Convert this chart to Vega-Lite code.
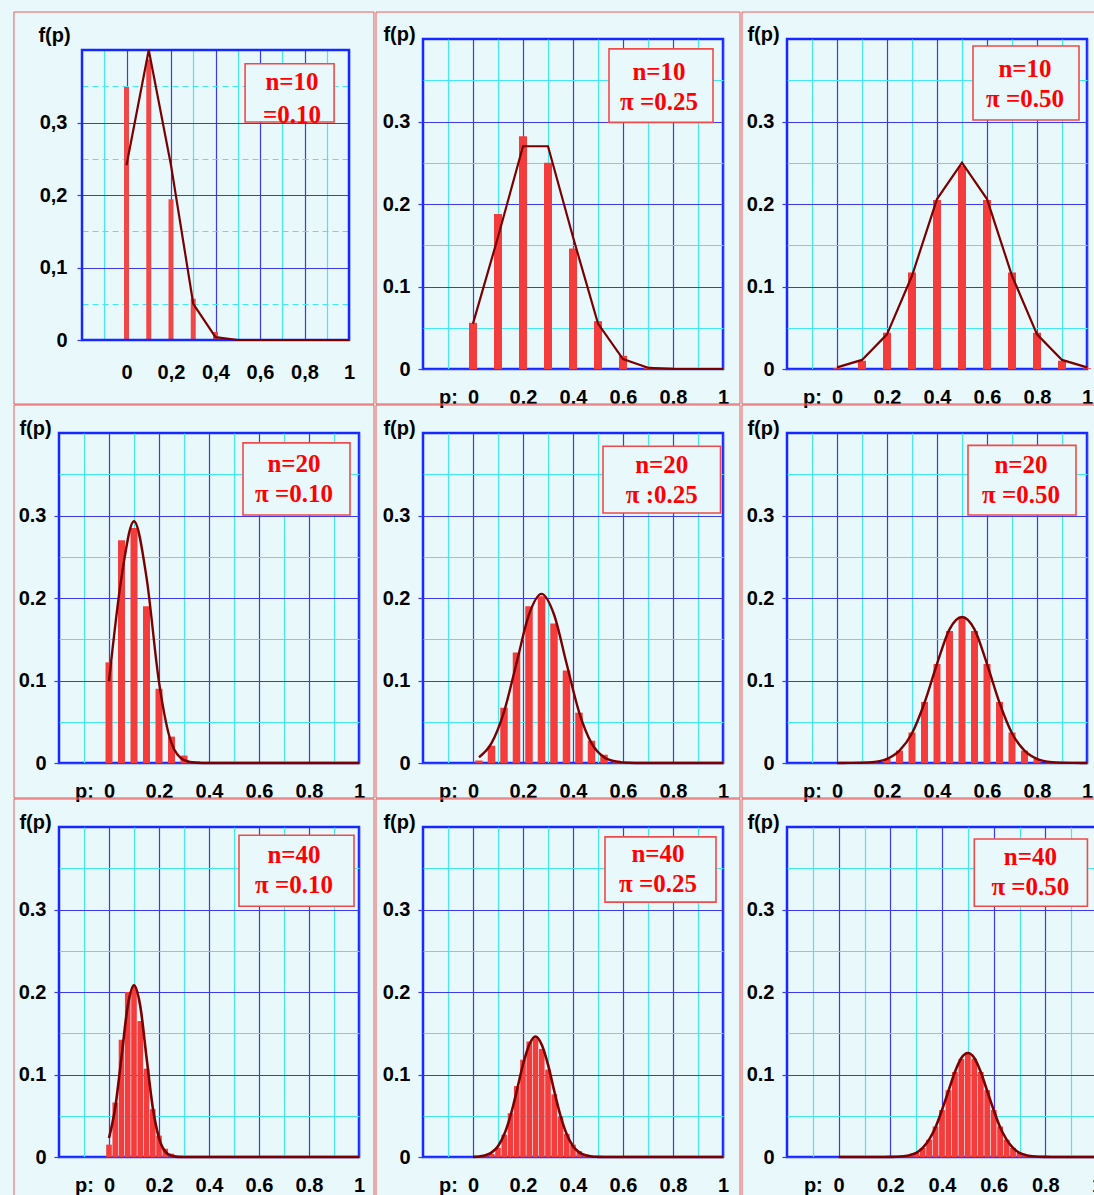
{
"$schema": "https://vega.github.io/schema/vega-lite/v6.json",
"background": "#e9f9fb",
"padding": {"left": 12, "top": 10, "right": 0, "bottom": 0},
"config": {
  "view": {"stroke": "#1428ff", "strokeWidth": 2.5},
  "axis": {"labelFont": "Liberation Sans", "labelFontWeight": "bold", "labelFontSize": 20, "labelColor": "#000000", "titleFont": "Liberation Sans", "titleFontWeight": "bold", "titleFontSize": 20, "titleColor": "#000000", "domain": false, "gridWidth": 1.2, "gridOpacity": 1, "labelOverlap": false, "labelFlush": false, "labelBound": false, "tickCount": 30}
},
"datasets": {
  "d1": [{"p":0,"bar":0.349,"line":0.241},{"p":0.1,"bar":0.387,"line":0.4},{"p":0.2,"bar":0.194,"line":0.241},{"p":0.3,"bar":0.057,"line":0.05},{"p":0.4,"bar":0.011,"line":0.004},{"p":0.5,"bar":0.0015,"line":0},{"p":0.6,"bar":0.0001,"line":0},{"p":0.7,"bar":0,"line":0},{"p":0.8,"bar":0,"line":0},{"p":0.9,"bar":0,"line":0},{"p":1,"bar":0,"line":0}],
  "d2": [{"p":0,"bar":0.056,"line":0.055},{"p":0.1,"bar":0.188,"line":0.16},{"p":0.2,"bar":0.282,"line":0.27},{"p":0.3,"bar":0.25,"line":0.27},{"p":0.4,"bar":0.146,"line":0.16},{"p":0.5,"bar":0.058,"line":0.055},{"p":0.6,"bar":0.016,"line":0.012},{"p":0.7,"bar":0.003,"line":0.0015},{"p":0.8,"bar":0.0004,"line":0.0001},{"p":0.9,"bar":0,"line":0},{"p":1,"bar":0,"line":0}],
  "d3": [{"p":0,"bar":0.001,"line":0.002},{"p":0.1,"bar":0.01,"line":0.011},{"p":0.2,"bar":0.044,"line":0.042},{"p":0.3,"bar":0.117,"line":0.113},{"p":0.4,"bar":0.205,"line":0.206},{"p":0.5,"bar":0.246,"line":0.25},{"p":0.6,"bar":0.205,"line":0.206},{"p":0.7,"bar":0.117,"line":0.113},{"p":0.8,"bar":0.044,"line":0.042},{"p":0.9,"bar":0.01,"line":0.011},{"p":1,"bar":0.001,"line":0.002}],
  "d4": [{"p":0,"bar":0.122,"line":0.099},{"p":0.05,"bar":0.27,"line":0.225},{"p":0.1,"bar":0.285,"line":0.293},{"p":0.15,"bar":0.19,"line":0.225},{"p":0.2,"bar":0.09,"line":0.098},{"p":0.25,"bar":0.032,"line":0.024},{"p":0.3,"bar":0.009,"line":0.0035},{"p":0.35,"bar":0.002,"line":0.0003},{"p":0.4,"bar":0.0004,"line":0},{"p":0.45,"bar":0.0001,"line":0},{"p":0.5,"bar":0,"line":0},{"p":0.55,"bar":0,"line":0},{"p":0.6,"bar":0,"line":0},{"p":0.65,"bar":0,"line":0},{"p":0.7,"bar":0,"line":0},{"p":0.75,"bar":0,"line":0},{"p":0.8,"bar":0,"line":0},{"p":0.85,"bar":0,"line":0},{"p":0.9,"bar":0,"line":0},{"p":0.95,"bar":0,"line":0},{"p":1,"bar":0,"line":0}],
  "d5": [{"p":0.024,"bar":0.003,"line":0.007},{"p":0.074,"bar":0.021,"line":0.024},{"p":0.124,"bar":0.067,"line":0.062},{"p":0.174,"bar":0.134,"line":0.121},{"p":0.224,"bar":0.19,"line":0.18},{"p":0.274,"bar":0.202,"line":0.205},{"p":0.324,"bar":0.169,"line":0.18},{"p":0.374,"bar":0.112,"line":0.121},{"p":0.424,"bar":0.061,"line":0.062},{"p":0.474,"bar":0.027,"line":0.024},{"p":0.524,"bar":0.01,"line":0.007},{"p":0.574,"bar":0.003,"line":0.0017},{"p":0.624,"bar":0.0008,"line":0.0003},{"p":0.674,"bar":0.0002,"line":0},{"p":0.724,"bar":0,"line":0},{"p":0.774,"bar":0,"line":0},{"p":0.824,"bar":0,"line":0},{"p":0.874,"bar":0,"line":0},{"p":0.924,"bar":0,"line":0},{"p":0.974,"bar":0,"line":0},{"p":1.0,"bar":0,"line":0}],
  "d6": [{"p":0,"bar":0,"line":0},{"p":0.05,"bar":0,"line":0.0001},{"p":0.1,"bar":0.0002,"line":0.0003},{"p":0.15,"bar":0.001,"line":0.0013},{"p":0.2,"bar":0.005,"line":0.005},{"p":0.25,"bar":0.015,"line":0.015},{"p":0.3,"bar":0.037,"line":0.036},{"p":0.35,"bar":0.074,"line":0.073},{"p":0.4,"bar":0.12,"line":0.12},{"p":0.45,"bar":0.16,"line":0.162},{"p":0.5,"bar":0.176,"line":0.177},{"p":0.55,"bar":0.16,"line":0.162},{"p":0.6,"bar":0.12,"line":0.12},{"p":0.65,"bar":0.074,"line":0.073},{"p":0.7,"bar":0.037,"line":0.036},{"p":0.75,"bar":0.015,"line":0.015},{"p":0.8,"bar":0.005,"line":0.005},{"p":0.85,"bar":0.001,"line":0.0013},{"p":0.9,"bar":0.0002,"line":0.0003},{"p":0.95,"bar":0,"line":0.0001},{"p":1,"bar":0,"line":0}],
  "d7": [{"p":0,"bar":0.015,"line":0.023},{"p":0.025,"bar":0.066,"line":0.06},{"p":0.05,"bar":0.142,"line":0.121},{"p":0.075,"bar":0.2,"line":0.183},{"p":0.1,"bar":0.206,"line":0.208},{"p":0.125,"bar":0.165,"line":0.183},{"p":0.15,"bar":0.107,"line":0.121},{"p":0.175,"bar":0.058,"line":0.06},{"p":0.2,"bar":0.026,"line":0.023},{"p":0.225,"bar":0.01,"line":0.0065},{"p":0.25,"bar":0.004,"line":0.0014},{"p":0.275,"bar":0.001,"line":0.0002},{"p":0.3,"bar":0.0003,"line":0},{"p":0.325,"bar":0.0001,"line":0},{"p":0.35,"bar":0,"line":0},{"p":0.375,"bar":0,"line":0},{"p":0.4,"bar":0,"line":0},{"p":0.425,"bar":0,"line":0},{"p":0.45,"bar":0,"line":0},{"p":0.475,"bar":0,"line":0},{"p":0.5,"bar":0,"line":0},{"p":0.525,"bar":0,"line":0},{"p":0.55,"bar":0,"line":0},{"p":0.575,"bar":0,"line":0},{"p":0.6,"bar":0,"line":0},{"p":0.625,"bar":0,"line":0},{"p":0.65,"bar":0,"line":0},{"p":0.675,"bar":0,"line":0},{"p":0.7,"bar":0,"line":0},{"p":0.725,"bar":0,"line":0},{"p":0.75,"bar":0,"line":0},{"p":0.775,"bar":0,"line":0},{"p":0.8,"bar":0,"line":0},{"p":0.825,"bar":0,"line":0},{"p":0.85,"bar":0,"line":0},{"p":0.875,"bar":0,"line":0},{"p":0.9,"bar":0,"line":0},{"p":0.925,"bar":0,"line":0},{"p":0.95,"bar":0,"line":0},{"p":0.975,"bar":0,"line":0},{"p":1,"bar":0,"line":0}],
  "d8": [{"p":0,"bar":0,"line":0.0002},{"p":0.025,"bar":0.0001,"line":0.0007},{"p":0.05,"bar":0.0009,"line":0.002},{"p":0.075,"bar":0.0037,"line":0.0056},{"p":0.1,"bar":0.011,"line":0.013},{"p":0.125,"bar":0.027,"line":0.0275},{"p":0.15,"bar":0.053,"line":0.05},{"p":0.175,"bar":0.086,"line":0.08},{"p":0.2,"bar":0.118,"line":0.112},{"p":0.225,"bar":0.14,"line":0.136},{"p":0.25,"bar":0.144,"line":0.146},{"p":0.275,"bar":0.131,"line":0.136},{"p":0.3,"bar":0.106,"line":0.112},{"p":0.325,"bar":0.076,"line":0.08},{"p":0.35,"bar":0.049,"line":0.05},{"p":0.375,"bar":0.028,"line":0.0275},{"p":0.4,"bar":0.015,"line":0.013},{"p":0.425,"bar":0.007,"line":0.0056},{"p":0.45,"bar":0.003,"line":0.002},{"p":0.475,"bar":0.001,"line":0.0007},{"p":0.5,"bar":0.0004,"line":0.0002},{"p":0.525,"bar":0.0001,"line":0},{"p":0.55,"bar":0,"line":0},{"p":0.575,"bar":0,"line":0},{"p":0.6,"bar":0,"line":0},{"p":0.625,"bar":0,"line":0},{"p":0.65,"bar":0,"line":0},{"p":0.675,"bar":0,"line":0},{"p":0.7,"bar":0,"line":0},{"p":0.725,"bar":0,"line":0},{"p":0.75,"bar":0,"line":0},{"p":0.775,"bar":0,"line":0},{"p":0.8,"bar":0,"line":0},{"p":0.825,"bar":0,"line":0},{"p":0.85,"bar":0,"line":0},{"p":0.875,"bar":0,"line":0},{"p":0.9,"bar":0,"line":0},{"p":0.925,"bar":0,"line":0},{"p":0.95,"bar":0,"line":0},{"p":0.975,"bar":0,"line":0},{"p":1,"bar":0,"line":0}],
  "d9": [{"p":0,"bar":0,"line":0},{"p":0.025,"bar":0,"line":0},{"p":0.05,"bar":0,"line":0},{"p":0.075,"bar":0,"line":0},{"p":0.1,"bar":0,"line":0},{"p":0.125,"bar":0,"line":0},{"p":0.15,"bar":0,"line":0},{"p":0.175,"bar":0,"line":0},{"p":0.2,"bar":0.0001,"line":0.0001},{"p":0.225,"bar":0.0003,"line":0.0003},{"p":0.25,"bar":0.0008,"line":0.0009},{"p":0.275,"bar":0.002,"line":0.0022},{"p":0.3,"bar":0.005,"line":0.005},{"p":0.325,"bar":0.011,"line":0.011},{"p":0.35,"bar":0.021,"line":0.021},{"p":0.375,"bar":0.037,"line":0.036},{"p":0.4,"bar":0.057,"line":0.057},{"p":0.425,"bar":0.081,"line":0.08},{"p":0.45,"bar":0.103,"line":0.103},{"p":0.475,"bar":0.119,"line":0.12},{"p":0.5,"bar":0.125,"line":0.126},{"p":0.525,"bar":0.119,"line":0.12},{"p":0.55,"bar":0.103,"line":0.103},{"p":0.575,"bar":0.081,"line":0.08},{"p":0.6,"bar":0.057,"line":0.057},{"p":0.625,"bar":0.037,"line":0.036},{"p":0.65,"bar":0.021,"line":0.021},{"p":0.675,"bar":0.011,"line":0.011},{"p":0.7,"bar":0.005,"line":0.005},{"p":0.725,"bar":0.002,"line":0.0022},{"p":0.75,"bar":0.0008,"line":0.0009},{"p":0.775,"bar":0.0003,"line":0.0003},{"p":0.8,"bar":0.0001,"line":0.0001},{"p":0.825,"bar":0,"line":0},{"p":0.85,"bar":0,"line":0},{"p":0.875,"bar":0,"line":0},{"p":0.9,"bar":0,"line":0},{"p":0.925,"bar":0,"line":0},{"p":0.95,"bar":0,"line":0},{"p":0.975,"bar":0,"line":0},{"p":1,"bar":0,"line":0}]
},
"columns": 3,
"spacing": 64,
"bounds": "flush",
"align": "each",
"concat": [
   {"width": 300, "height": 312, "view": {"stroke": null},
    "layer": [
     {"data": {"values": [{}]}, "mark": {"type": "rect", "fillOpacity": 0, "stroke": "#f05a5a", "strokeWidth": 1},
      "encoding": {"x": {"datum": -0.506, "type": "quantitative"}, "x2": {"datum": 1.112}, "y": {"datum": 0.4524, "type": "quantitative"}, "y2": {"datum": -0.0883}}},
     {"data": {"name": "d1"}, "mark": {"type": "bar", "orient": "vertical", "size": 5, "color": "#f04848"},
      "encoding": {
       "x": {"field": "p", "type": "quantitative", "scale": {"domain": [-0.2, 1], "range": [23, 290], "nice": false, "zero": false, "padding": 0},
             "axis": {"values": [-0.1,0,0.1,0.2,0.3,0.4,0.5,0.6,0.7,0.8,0.9,1], "tickCount": 30, "labelExpr": "datum.value < -0.05 ? '' : (round(datum.value*10) % 2 == 0 ? replace(format(datum.value, '~g'), '.', ',') : '')", "grid": true, "gridColor": {"condition": {"test": "round(datum.value*10) % 2 == 0", "value": "#3a3aea"}, "value": "#44e8f4"}, "ticks": false, "labelOverlap": false, "labelPadding": 22.5, "offset": -11, "title": null}},
       "y": {"field": "bar", "type": "quantitative", "stack": null, "scale": {"domain": [0, 0.4], "range": [301, 11], "nice": false, "zero": false},
             "axis": {"values": [0,0.05,0.1,0.15,0.2,0.25,0.3,0.35], "tickCount": 30, "labelExpr": "round(datum.value*20) % 2 == 0 ? replace(format(datum.value, '~g'), '.', ',') : ''", "grid": true, "gridColor": {"condition": {"test": "round(datum.value*20) % 2 == 0", "value": "#3a3aea"}, "value": "#44e8f4"}, "gridDash": {"condition": {"test": "round(datum.value*20) % 2 == 0", "value": []}, "value": [6, 4]}, "ticks": true, "tickSize": 5, "tickWidth": 1.2, "tickColor": {"condition": {"test": "round(datum.value*20) % 2 == 0", "value": "#3a3aea"}, "value": "transparent"}, "labelOverlap": false, "labelPadding": 10, "offset": -23, "title": "f(p)", "titleAngle": 0, "titleX": -28, "titleY": -4, "titleAlign": "center", "titleBaseline": "middle"}}}},
     {"data": {"values": [{}]}, "mark": {"type": "rect", "fillOpacity": 0, "stroke": "#1428ff", "strokeWidth": 2.5},
      "encoding": {"x": {"datum": -0.2, "type": "quantitative"}, "x2": {"datum": 1}, "y": {"datum": 0, "type": "quantitative"}, "y2": {"datum": 0.4}}},
     {"data": {"name": "d1"}, "mark": {"type": "line", "color": "#7a0000", "strokeWidth": 2.2},
      "encoding": {"x": {"field": "p", "type": "quantitative"}, "y": {"field": "line", "type": "quantitative"}}},
     {"data": {"values": [{}]}, "mark": {"type": "rect", "fill": "#e9f9fb", "stroke": "#f04a4a", "strokeWidth": 1.6},
      "encoding": {"x": {"datum": 0.533, "type": "quantitative"}, "x2": {"datum": 0.933}, "y": {"datum": 0.381, "type": "quantitative"}, "y2": {"datum": 0.3007}}},
     {"data": {"values": [{}]}, "mark": {"type": "text", "text": ["n=10", "=0.10"], "lineHeight": 33, "font": "Liberation Serif", "fontWeight": "bold", "fontSize": 25, "color": "#ff0000", "align": "center", "baseline": "middle"},
      "encoding": {"x": {"datum": 0.744, "type": "quantitative"}, "y": {"datum": 0.356, "type": "quantitative"}}}
    ]},
   {"width": 300, "height": 330,
    "layer": [
     {"data": {"values": [{}]}, "mark": {"type": "rect", "fillOpacity": 0, "stroke": "#f05a5a", "strokeWidth": 1},
      "encoding": {"x": {"datum": -0.388, "type": "quantitative"}, "x2": {"datum": 1.068}, "y": {"datum": 0.4327, "type": "quantitative"}, "y2": {"datum": -0.0424}}},
     {"data": {"name": "d2"}, "mark": {"type": "bar", "orient": "vertical", "size": 8, "color": "#f43c3c"},
      "encoding": {
       "x": {"field": "p", "type": "quantitative", "scale": {"domain": [-0.2, 1], "nice": false, "zero": false, "padding": 0},
             "axis": {"values": [-0.1,0,0.1,0.2,0.3,0.4,0.5,0.6,0.7,0.8,0.9,1], "tickCount": 30, "labelExpr": "datum.value < -0.05 ? 'p:' : (round(datum.value*10) % 2 == 0 ? format(datum.value, '~g') : '')", "grid": true, "gridColor": {"condition": {"test": "round(datum.value*10) % 2 == 0", "value": "#3a3aea"}, "value": "#44e8f4"}, "ticks": false, "labelOverlap": false, "labelPadding": 18.5, "title": null}},
       "y": {"field": "bar", "type": "quantitative", "stack": null, "scale": {"domain": [0, 0.4], "nice": false, "zero": false},
             "axis": {"values": [0,0.05,0.1,0.15,0.2,0.25,0.3,0.35], "tickCount": 30, "labelExpr": "round(datum.value*20) % 2 == 0 ? format(datum.value, '~g') : ''", "grid": true, "gridColor": {"condition": {"test": "round(datum.value*20) % 2 == 0", "value": "#3a3aea"}, "value": "#44e8f4"}, "ticks": true, "tickSize": 5, "tickWidth": 1.2, "tickColor": {"condition": {"test": "round(datum.value*20) % 2 == 0", "value": "#3a3aea"}, "value": "transparent"}, "labelOverlap": false, "labelPadding": 8, "title": "f(p)", "titleAngle": 0, "titleX": -24, "titleY": -5, "titleAlign": "center", "titleBaseline": "middle"}}}},
     {"data": {"name": "d2"}, "mark": {"type": "line", "color": "#7a0000", "strokeWidth": 2.2},
      "encoding": {"x": {"field": "p", "type": "quantitative"}, "y": {"field": "line", "type": "quantitative"}}},
     {"data": {"values": [{}]}, "mark": {"type": "rect", "fill": "#e9f9fb", "stroke": "#f04a4a", "strokeWidth": 1.6},
      "encoding": {"x": {"datum": 0.544, "type": "quantitative"}, "x2": {"datum": 0.96}, "y": {"datum": 0.388, "type": "quantitative"}, "y2": {"datum": 0.299}}},
     {"data": {"values": [{}]}, "mark": {"type": "text", "text": ["n=10", "π =0.25"], "lineHeight": 30, "font": "Liberation Serif", "fontWeight": "bold", "fontSize": 25, "color": "#ff0000", "align": "center", "baseline": "middle"},
      "encoding": {"x": {"datum": 0.744, "type": "quantitative"}, "y": {"datum": 0.36, "type": "quantitative"}}}
    ]},
   {"width": 300, "height": 330,
    "layer": [
     {"data": {"values": [{}]}, "mark": {"type": "rect", "fillOpacity": 0, "stroke": "#f05a5a", "strokeWidth": 1},
      "encoding": {"x": {"datum": -0.38, "type": "quantitative"}, "x2": {"datum": 1.032}, "y": {"datum": 0.4327, "type": "quantitative"}, "y2": {"datum": -0.0424}}},
     {"data": {"name": "d3"}, "mark": {"type": "bar", "orient": "vertical", "size": 8, "color": "#f43c3c"},
      "encoding": {
       "x": {"field": "p", "type": "quantitative", "scale": {"domain": [-0.2, 1], "nice": false, "zero": false, "padding": 0},
             "axis": {"values": [-0.1,0,0.1,0.2,0.3,0.4,0.5,0.6,0.7,0.8,0.9,1], "tickCount": 30, "labelExpr": "datum.value < -0.05 ? 'p:' : (round(datum.value*10) % 2 == 0 ? format(datum.value, '~g') : '')", "grid": true, "gridColor": {"condition": {"test": "round(datum.value*10) % 2 == 0", "value": "#3a3aea"}, "value": "#44e8f4"}, "ticks": false, "labelOverlap": false, "labelPadding": 18.5, "title": null}},
       "y": {"field": "bar", "type": "quantitative", "stack": null, "scale": {"domain": [0, 0.4], "nice": false, "zero": false},
             "axis": {"values": [0,0.05,0.1,0.15,0.2,0.25,0.3,0.35], "tickCount": 30, "labelExpr": "round(datum.value*20) % 2 == 0 ? format(datum.value, '~g') : ''", "grid": true, "gridColor": {"condition": {"test": "round(datum.value*20) % 2 == 0", "value": "#3a3aea"}, "value": "#44e8f4"}, "ticks": true, "tickSize": 5, "tickWidth": 1.2, "tickColor": {"condition": {"test": "round(datum.value*20) % 2 == 0", "value": "#3a3aea"}, "value": "transparent"}, "labelOverlap": false, "labelPadding": 8, "title": "f(p)", "titleAngle": 0, "titleX": -24, "titleY": -5, "titleAlign": "center", "titleBaseline": "middle"}}}},
     {"data": {"name": "d3"}, "mark": {"type": "line", "color": "#7a0000", "strokeWidth": 2.2},
      "encoding": {"x": {"field": "p", "type": "quantitative"}, "y": {"field": "line", "type": "quantitative"}}},
     {"data": {"values": [{}]}, "mark": {"type": "rect", "fill": "#e9f9fb", "stroke": "#f04a4a", "strokeWidth": 1.6},
      "encoding": {"x": {"datum": 0.544, "type": "quantitative"}, "x2": {"datum": 0.968}, "y": {"datum": 0.3915, "type": "quantitative"}, "y2": {"datum": 0.3018}}},
     {"data": {"values": [{}]}, "mark": {"type": "text", "text": ["n=10", "π =0.50"], "lineHeight": 30, "font": "Liberation Serif", "fontWeight": "bold", "fontSize": 25, "color": "#ff0000", "align": "center", "baseline": "middle"},
      "encoding": {"x": {"datum": 0.752, "type": "quantitative"}, "y": {"datum": 0.3636, "type": "quantitative"}}}
    ]},
   {"width": 300, "height": 330,
    "layer": [
     {"data": {"values": [{}]}, "mark": {"type": "rect", "fillOpacity": 0, "stroke": "#f05a5a", "strokeWidth": 1},
      "encoding": {"x": {"datum": -0.38, "type": "quantitative"}, "x2": {"datum": 1.06}, "y": {"datum": 0.4339, "type": "quantitative"}, "y2": {"datum": -0.0424}}},
     {"data": {"name": "d4"}, "mark": {"type": "bar", "orient": "vertical", "size": 7, "color": "#f43c3c"},
      "encoding": {
       "x": {"field": "p", "type": "quantitative", "scale": {"domain": [-0.2, 1], "nice": false, "zero": false, "padding": 0},
             "axis": {"values": [-0.1,0,0.1,0.2,0.3,0.4,0.5,0.6,0.7,0.8,0.9,1], "tickCount": 30, "labelExpr": "datum.value < -0.05 ? 'p:' : (round(datum.value*10) % 2 == 0 ? format(datum.value, '~g') : '')", "grid": true, "gridColor": {"condition": {"test": "round(datum.value*10) % 2 == 0", "value": "#3a3aea"}, "value": "#44e8f4"}, "ticks": false, "labelOverlap": false, "labelPadding": 18.5, "title": null}},
       "y": {"field": "bar", "type": "quantitative", "stack": null, "scale": {"domain": [0, 0.4], "nice": false, "zero": false},
             "axis": {"values": [0,0.05,0.1,0.15,0.2,0.25,0.3,0.35], "tickCount": 30, "labelExpr": "round(datum.value*20) % 2 == 0 ? format(datum.value, '~g') : ''", "grid": true, "gridColor": {"condition": {"test": "round(datum.value*20) % 2 == 0", "value": "#3a3aea"}, "value": "#44e8f4"}, "ticks": true, "tickSize": 5, "tickWidth": 1.2, "tickColor": {"condition": {"test": "round(datum.value*20) % 2 == 0", "value": "#3a3aea"}, "value": "transparent"}, "labelOverlap": false, "labelPadding": 8, "title": "f(p)", "titleAngle": 0, "titleX": -24, "titleY": -5, "titleAlign": "center", "titleBaseline": "middle"}}}},
     {"data": {"name": "d4"}, "mark": {"type": "line", "color": "#7a0000", "strokeWidth": 2.4, "interpolate": "monotone"},
      "encoding": {"x": {"field": "p", "type": "quantitative"}, "y": {"field": "line", "type": "quantitative"}}},
     {"data": {"values": [{}]}, "mark": {"type": "rect", "fill": "#e9f9fb", "stroke": "#f04a4a", "strokeWidth": 1.6},
      "encoding": {"x": {"datum": 0.536, "type": "quantitative"}, "x2": {"datum": 0.964}, "y": {"datum": 0.388, "type": "quantitative"}, "y2": {"datum": 0.3006}}},
     {"data": {"values": [{}]}, "mark": {"type": "text", "text": ["n=20", "π =0.10"], "lineHeight": 30, "font": "Liberation Serif", "fontWeight": "bold", "fontSize": 25, "color": "#ff0000", "align": "center", "baseline": "middle"},
      "encoding": {"x": {"datum": 0.74, "type": "quantitative"}, "y": {"datum": 0.362, "type": "quantitative"}}}
    ]},
   {"width": 300, "height": 330,
    "layer": [
     {"data": {"values": [{}]}, "mark": {"type": "rect", "fillOpacity": 0, "stroke": "#f05a5a", "strokeWidth": 1},
      "encoding": {"x": {"datum": -0.388, "type": "quantitative"}, "x2": {"datum": 1.068}, "y": {"datum": 0.4339, "type": "quantitative"}, "y2": {"datum": -0.0424}}},
     {"data": {"name": "d5"}, "mark": {"type": "bar", "orient": "vertical", "size": 7.5, "color": "#f43c3c"},
      "encoding": {
       "x": {"field": "p", "type": "quantitative", "scale": {"domain": [-0.2, 1], "nice": false, "zero": false, "padding": 0},
             "axis": {"values": [-0.1,0,0.1,0.2,0.3,0.4,0.5,0.6,0.7,0.8,0.9,1], "tickCount": 30, "labelExpr": "datum.value < -0.05 ? 'p:' : (round(datum.value*10) % 2 == 0 ? format(datum.value, '~g') : '')", "grid": true, "gridColor": {"condition": {"test": "round(datum.value*10) % 2 == 0", "value": "#3a3aea"}, "value": "#44e8f4"}, "ticks": false, "labelOverlap": false, "labelPadding": 18.5, "title": null}},
       "y": {"field": "bar", "type": "quantitative", "stack": null, "scale": {"domain": [0, 0.4], "nice": false, "zero": false},
             "axis": {"values": [0,0.05,0.1,0.15,0.2,0.25,0.3,0.35], "tickCount": 30, "labelExpr": "round(datum.value*20) % 2 == 0 ? format(datum.value, '~g') : ''", "grid": true, "gridColor": {"condition": {"test": "round(datum.value*20) % 2 == 0", "value": "#3a3aea"}, "value": "#44e8f4"}, "ticks": true, "tickSize": 5, "tickWidth": 1.2, "tickColor": {"condition": {"test": "round(datum.value*20) % 2 == 0", "value": "#3a3aea"}, "value": "transparent"}, "labelOverlap": false, "labelPadding": 8, "title": "f(p)", "titleAngle": 0, "titleX": -24, "titleY": -5, "titleAlign": "center", "titleBaseline": "middle"}}}},
     {"data": {"name": "d5"}, "mark": {"type": "line", "color": "#7a0000", "strokeWidth": 2.4, "interpolate": "monotone"},
      "encoding": {"x": {"field": "p", "type": "quantitative"}, "y": {"field": "line", "type": "quantitative"}}},
     {"data": {"values": [{}]}, "mark": {"type": "rect", "fill": "#e9f9fb", "stroke": "#f04a4a", "strokeWidth": 1.6},
      "encoding": {"x": {"datum": 0.52, "type": "quantitative"}, "x2": {"datum": 0.99}, "y": {"datum": 0.384, "type": "quantitative"}, "y2": {"datum": 0.303}}},
     {"data": {"values": [{}]}, "mark": {"type": "text", "text": ["n=20", "π :0.25"], "lineHeight": 30, "font": "Liberation Serif", "fontWeight": "bold", "fontSize": 25, "color": "#ff0000", "align": "center", "baseline": "middle"},
      "encoding": {"x": {"datum": 0.755, "type": "quantitative"}, "y": {"datum": 0.361, "type": "quantitative"}}}
    ]},
   {"width": 300, "height": 330,
    "layer": [
     {"data": {"values": [{}]}, "mark": {"type": "rect", "fillOpacity": 0, "stroke": "#f05a5a", "strokeWidth": 1},
      "encoding": {"x": {"datum": -0.38, "type": "quantitative"}, "x2": {"datum": 1.032}, "y": {"datum": 0.4339, "type": "quantitative"}, "y2": {"datum": -0.0424}}},
     {"data": {"name": "d6"}, "mark": {"type": "bar", "orient": "vertical", "size": 7, "color": "#f43c3c"},
      "encoding": {
       "x": {"field": "p", "type": "quantitative", "scale": {"domain": [-0.2, 1], "nice": false, "zero": false, "padding": 0},
             "axis": {"values": [-0.1,0,0.1,0.2,0.3,0.4,0.5,0.6,0.7,0.8,0.9,1], "tickCount": 30, "labelExpr": "datum.value < -0.05 ? 'p:' : (round(datum.value*10) % 2 == 0 ? format(datum.value, '~g') : '')", "grid": true, "gridColor": {"condition": {"test": "round(datum.value*10) % 2 == 0", "value": "#3a3aea"}, "value": "#44e8f4"}, "ticks": false, "labelOverlap": false, "labelPadding": 18.5, "title": null}},
       "y": {"field": "bar", "type": "quantitative", "stack": null, "scale": {"domain": [0, 0.4], "nice": false, "zero": false},
             "axis": {"values": [0,0.05,0.1,0.15,0.2,0.25,0.3,0.35], "tickCount": 30, "labelExpr": "round(datum.value*20) % 2 == 0 ? format(datum.value, '~g') : ''", "grid": true, "gridColor": {"condition": {"test": "round(datum.value*20) % 2 == 0", "value": "#3a3aea"}, "value": "#44e8f4"}, "ticks": true, "tickSize": 5, "tickWidth": 1.2, "tickColor": {"condition": {"test": "round(datum.value*20) % 2 == 0", "value": "#3a3aea"}, "value": "transparent"}, "labelOverlap": false, "labelPadding": 8, "title": "f(p)", "titleAngle": 0, "titleX": -24, "titleY": -5, "titleAlign": "center", "titleBaseline": "middle"}}}},
     {"data": {"name": "d6"}, "mark": {"type": "line", "color": "#7a0000", "strokeWidth": 2.4, "interpolate": "monotone"},
      "encoding": {"x": {"field": "p", "type": "quantitative"}, "y": {"field": "line", "type": "quantitative"}}},
     {"data": {"values": [{}]}, "mark": {"type": "rect", "fill": "#e9f9fb", "stroke": "#f04a4a", "strokeWidth": 1.6},
      "encoding": {"x": {"datum": 0.524, "type": "quantitative"}, "x2": {"datum": 0.956}, "y": {"datum": 0.385, "type": "quantitative"}, "y2": {"datum": 0.3006}}},
     {"data": {"values": [{}]}, "mark": {"type": "text", "text": ["n=20", "π =0.50"], "lineHeight": 30, "font": "Liberation Serif", "fontWeight": "bold", "fontSize": 25, "color": "#ff0000", "align": "center", "baseline": "middle"},
      "encoding": {"x": {"datum": 0.736, "type": "quantitative"}, "y": {"datum": 0.361, "type": "quantitative"}}}
    ]},
   {"width": 300, "height": 330,
    "layer": [
     {"data": {"values": [{}]}, "mark": {"type": "rect", "fillOpacity": 0, "stroke": "#f05a5a", "strokeWidth": 1},
      "encoding": {"x": {"datum": -0.38, "type": "quantitative"}, "x2": {"datum": 1.06}, "y": {"datum": 0.4339, "type": "quantitative"}, "y2": {"datum": -0.0473}}},
     {"data": {"name": "d7"}, "mark": {"type": "bar", "orient": "vertical", "size": 5.6, "color": "#f43c3c"},
      "encoding": {
       "x": {"field": "p", "type": "quantitative", "scale": {"domain": [-0.2, 1], "nice": false, "zero": false, "padding": 0},
             "axis": {"values": [-0.1,0,0.1,0.2,0.3,0.4,0.5,0.6,0.7,0.8,0.9,1], "tickCount": 30, "labelExpr": "datum.value < -0.05 ? 'p:' : (round(datum.value*10) % 2 == 0 ? format(datum.value, '~g') : '')", "grid": true, "gridColor": {"condition": {"test": "round(datum.value*10) % 2 == 0", "value": "#3a3aea"}, "value": "#44e8f4"}, "ticks": false, "labelOverlap": false, "labelPadding": 18.5, "title": null}},
       "y": {"field": "bar", "type": "quantitative", "stack": null, "scale": {"domain": [0, 0.4], "nice": false, "zero": false},
             "axis": {"values": [0,0.05,0.1,0.15,0.2,0.25,0.3,0.35], "tickCount": 30, "labelExpr": "round(datum.value*20) % 2 == 0 ? format(datum.value, '~g') : ''", "grid": true, "gridColor": {"condition": {"test": "round(datum.value*20) % 2 == 0", "value": "#3a3aea"}, "value": "#44e8f4"}, "ticks": true, "tickSize": 5, "tickWidth": 1.2, "tickColor": {"condition": {"test": "round(datum.value*20) % 2 == 0", "value": "#3a3aea"}, "value": "transparent"}, "labelOverlap": false, "labelPadding": 8, "title": "f(p)", "titleAngle": 0, "titleX": -24, "titleY": -5, "titleAlign": "center", "titleBaseline": "middle"}}}},
     {"data": {"name": "d7"}, "mark": {"type": "line", "color": "#7a0000", "strokeWidth": 2.6, "interpolate": "monotone"},
      "encoding": {"x": {"field": "p", "type": "quantitative"}, "y": {"field": "line", "type": "quantitative"}}},
     {"data": {"values": [{}]}, "mark": {"type": "rect", "fill": "#e9f9fb", "stroke": "#f04a4a", "strokeWidth": 1.6},
      "encoding": {"x": {"datum": 0.52, "type": "quantitative"}, "x2": {"datum": 0.98}, "y": {"datum": 0.39, "type": "quantitative"}, "y2": {"datum": 0.304}}},
     {"data": {"values": [{}]}, "mark": {"type": "text", "text": ["n=40", "π =0.10"], "lineHeight": 30, "font": "Liberation Serif", "fontWeight": "bold", "fontSize": 25, "color": "#ff0000", "align": "center", "baseline": "middle"},
      "encoding": {"x": {"datum": 0.74, "type": "quantitative"}, "y": {"datum": 0.366, "type": "quantitative"}}}
    ]},
   {"width": 300, "height": 330,
    "layer": [
     {"data": {"values": [{}]}, "mark": {"type": "rect", "fillOpacity": 0, "stroke": "#f05a5a", "strokeWidth": 1},
      "encoding": {"x": {"datum": -0.388, "type": "quantitative"}, "x2": {"datum": 1.068}, "y": {"datum": 0.4339, "type": "quantitative"}, "y2": {"datum": -0.0473}}},
     {"data": {"name": "d8"}, "mark": {"type": "bar", "orient": "vertical", "size": 5.6, "color": "#f43c3c"},
      "encoding": {
       "x": {"field": "p", "type": "quantitative", "scale": {"domain": [-0.2, 1], "nice": false, "zero": false, "padding": 0},
             "axis": {"values": [-0.1,0,0.1,0.2,0.3,0.4,0.5,0.6,0.7,0.8,0.9,1], "tickCount": 30, "labelExpr": "datum.value < -0.05 ? 'p:' : (round(datum.value*10) % 2 == 0 ? format(datum.value, '~g') : '')", "grid": true, "gridColor": {"condition": {"test": "round(datum.value*10) % 2 == 0", "value": "#3a3aea"}, "value": "#44e8f4"}, "ticks": false, "labelOverlap": false, "labelPadding": 18.5, "title": null}},
       "y": {"field": "bar", "type": "quantitative", "stack": null, "scale": {"domain": [0, 0.4], "nice": false, "zero": false},
             "axis": {"values": [0,0.05,0.1,0.15,0.2,0.25,0.3,0.35], "tickCount": 30, "labelExpr": "round(datum.value*20) % 2 == 0 ? format(datum.value, '~g') : ''", "grid": true, "gridColor": {"condition": {"test": "round(datum.value*20) % 2 == 0", "value": "#3a3aea"}, "value": "#44e8f4"}, "ticks": true, "tickSize": 5, "tickWidth": 1.2, "tickColor": {"condition": {"test": "round(datum.value*20) % 2 == 0", "value": "#3a3aea"}, "value": "transparent"}, "labelOverlap": false, "labelPadding": 8, "title": "f(p)", "titleAngle": 0, "titleX": -24, "titleY": -5, "titleAlign": "center", "titleBaseline": "middle"}}}},
     {"data": {"name": "d8"}, "mark": {"type": "line", "color": "#7a0000", "strokeWidth": 2.6, "interpolate": "monotone"},
      "encoding": {"x": {"field": "p", "type": "quantitative"}, "y": {"field": "line", "type": "quantitative"}}},
     {"data": {"values": [{}]}, "mark": {"type": "rect", "fill": "#e9f9fb", "stroke": "#f04a4a", "strokeWidth": 1.6},
      "encoding": {"x": {"datum": 0.528, "type": "quantitative"}, "x2": {"datum": 0.972}, "y": {"datum": 0.388, "type": "quantitative"}, "y2": {"datum": 0.309}}},
     {"data": {"values": [{}]}, "mark": {"type": "text", "text": ["n=40", "π =0.25"], "lineHeight": 30, "font": "Liberation Serif", "fontWeight": "bold", "fontSize": 25, "color": "#ff0000", "align": "center", "baseline": "middle"},
      "encoding": {"x": {"datum": 0.74, "type": "quantitative"}, "y": {"datum": 0.367, "type": "quantitative"}}}
    ]},
   {"width": 310, "height": 330,
    "layer": [
     {"data": {"values": [{}]}, "mark": {"type": "rect", "fillOpacity": 0, "stroke": "#f05a5a", "strokeWidth": 1},
      "encoding": {"x": {"datum": -0.374, "type": "quantitative"}, "x2": {"datum": 1.01}, "y": {"datum": 0.4339, "type": "quantitative"}, "y2": {"datum": -0.0473}}},
     {"data": {"name": "d9"}, "mark": {"type": "bar", "orient": "vertical", "size": 5.8, "color": "#f43c3c"},
      "encoding": {
       "x": {"field": "p", "type": "quantitative", "scale": {"domain": [-0.2, 1], "nice": false, "zero": false, "padding": 0},
             "axis": {"values": [-0.1,0,0.1,0.2,0.3,0.4,0.5,0.6,0.7,0.8,0.9,1], "tickCount": 30, "labelExpr": "datum.value < -0.05 ? 'p:' : (round(datum.value*10) % 2 == 0 ? format(datum.value, '~g') : '')", "grid": true, "gridColor": {"condition": {"test": "round(datum.value*10) % 2 == 0", "value": "#3a3aea"}, "value": "#44e8f4"}, "ticks": false, "labelOverlap": false, "labelPadding": 18.5, "title": null}},
       "y": {"field": "bar", "type": "quantitative", "stack": null, "scale": {"domain": [0, 0.4], "nice": false, "zero": false},
             "axis": {"values": [0,0.05,0.1,0.15,0.2,0.25,0.3,0.35], "tickCount": 30, "labelExpr": "round(datum.value*20) % 2 == 0 ? format(datum.value, '~g') : ''", "grid": true, "gridColor": {"condition": {"test": "round(datum.value*20) % 2 == 0", "value": "#3a3aea"}, "value": "#44e8f4"}, "ticks": true, "tickSize": 5, "tickWidth": 1.2, "tickColor": {"condition": {"test": "round(datum.value*20) % 2 == 0", "value": "#3a3aea"}, "value": "transparent"}, "labelOverlap": false, "labelPadding": 8, "title": "f(p)", "titleAngle": 0, "titleX": -24, "titleY": -5, "titleAlign": "center", "titleBaseline": "middle"}}}},
     {"data": {"name": "d9"}, "mark": {"type": "line", "color": "#7a0000", "strokeWidth": 2.6, "interpolate": "monotone"},
      "encoding": {"x": {"field": "p", "type": "quantitative"}, "y": {"field": "line", "type": "quantitative"}}},
     {"data": {"values": [{}]}, "mark": {"type": "rect", "fill": "#e9f9fb", "stroke": "#f04a4a", "strokeWidth": 1.6},
      "encoding": {"x": {"datum": 0.525, "type": "quantitative"}, "x2": {"datum": 0.963}, "y": {"datum": 0.3855, "type": "quantitative"}, "y2": {"datum": 0.304}}},
     {"data": {"values": [{}]}, "mark": {"type": "text", "text": ["n=40", "π =0.50"], "lineHeight": 30, "font": "Liberation Serif", "fontWeight": "bold", "fontSize": 25, "color": "#ff0000", "align": "center", "baseline": "middle"},
      "encoding": {"x": {"datum": 0.742, "type": "quantitative"}, "y": {"datum": 0.364, "type": "quantitative"}}}
    ]}
]
}
